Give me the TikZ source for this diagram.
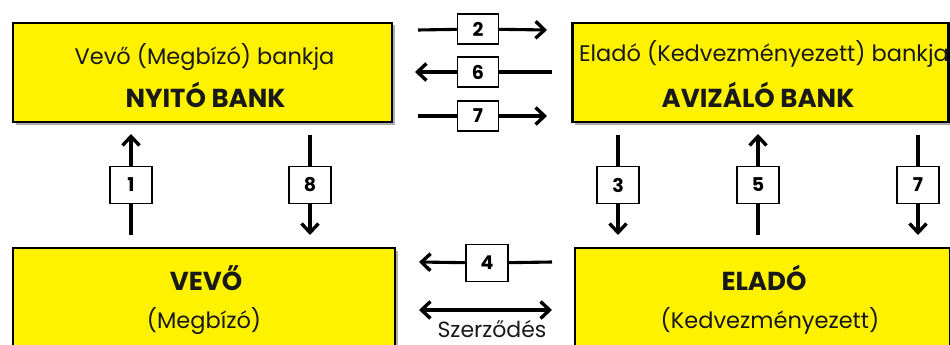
\documentclass[tikz,border=0pt]{standalone}
\usepackage{fontspec}
\setmainfont{Poppins}
\usetikzlibrary{arrows.meta,shadows}
\begin{document}
\begin{tikzpicture}[x=1pt,y=-1pt,
  bigbox/.style={draw=black, line width=2.8pt, fill=yellow, inner sep=0pt,
    drop shadow={shadow xshift=2.5pt, shadow yshift=-2.5pt, fill=black!45, opacity=0.7}},
  numbox/.style={draw=black, line width=1.3pt, fill=white, inner sep=0pt,
    font=\bfseries\fontsize{19}{19}\selectfont},
  vnum/.style={numbox, minimum width=42pt, minimum height=37pt},
  hnum/.style={numbox, minimum width=41pt, minimum height=30pt},
  conn/.style={line width=3.1pt},
  arr/.style={conn, -{Straight Barb[length=9pt,width=17pt,line width=3.4pt]}},
  darr/.style={conn, {Straight Barb[length=9pt,width=17pt,line width=3.4pt]}-{Straight Barb[length=9pt,width=17pt,line width=3.4pt]}},
  reg/.style={anchor=base, text=black!90, font=\fontsize{22.5}{22.5}\selectfont},
  hd/.style={anchor=base, text=black!90, font=\bfseries\fontsize{26}{26}\selectfont}
]
\useasboundingbox (0,0) rectangle (950,345);
\clip (0,0) rectangle (950,345);
\fill[white] (0,0) rectangle (950,345);

% big boxes
\node[bigbox, minimum width=379pt, minimum height=99pt] (nyito) at (202.5,72.5) {};
\node[bigbox, minimum width=376pt, minimum height=99pt] (aviz) at (760.5,72.5) {};
\node[bigbox, minimum width=382pt, minimum height=172pt] (vevo) at (204,334) {};
\node[bigbox, minimum width=375pt, minimum height=172pt] (elado) at (762.5,334) {};

% texts
\node[reg] (t1) at (204.5,64) {Vevő (Megbízó) bankja};
\node[hd] (t2) at (205.5,107) {NYITÓ BANK};
\node[reg] (t3) at (764,62) {Eladó (Kedvezményezett) bankja};
\node[hd] (t4) at (758,107) {AVIZÁLÓ BANK};
\node[hd] (t5) at (206,290) {VEVŐ};
\node[reg] (t6) at (204,328) {(Megbízó)};
\node[hd] (t7) at (764,290) {ELADÓ};
\node[reg] (t8) at (770,328) {(Kedvezményezett)};

% vertical arrows
\coordinate (a1s) at (131,235); \coordinate (a1e) at (131,134);
\node[vnum] (n1) at (131,185) {1};
\draw[conn] (a1s) -- (n1); \draw[arr] (n1) -- (a1e);

\coordinate (a8s) at (310,135); \coordinate (a8e) at (310,235);
\node[vnum] (n8) at (310,185) {8};
\draw[conn] (a8s) -- (n8); \draw[arr] (n8) -- (a8e);

\coordinate (a3s) at (618,135); \coordinate (a3e) at (618,235);
\node[vnum] (n3) at (618,185) {3};
\draw[conn] (a3s) -- (n3); \draw[arr] (n3) -- (a3e);

\coordinate (a5s) at (758,235); \coordinate (a5e) at (758,134);
\node[vnum] (n5) at (758,185) {5};
\draw[conn] (a5s) -- (n5); \draw[arr] (n5) -- (a5e);

\coordinate (a7vs) at (918,135); \coordinate (a7ve) at (918,235);
\node[vnum] (n7v) at (918,185) {7};
\draw[conn] (a7vs) -- (n7v); \draw[arr] (n7v) -- (a7ve);

% horizontal arrows
\coordinate (a2s) at (418,30); \coordinate (a2e) at (547,30);
\node[hnum] (n2) at (478,29) {2};
\draw[conn] (a2s) -- (n2); \draw[arr] (n2) -- (a2e);

\coordinate (a6s) at (552,72); \coordinate (a6e) at (415,72);
\node[hnum] (n6) at (478,72) {6};
\draw[conn] (a6s) -- (n6); \draw[arr] (n6) -- (a6e);

\coordinate (a7hs) at (418,116); \coordinate (a7he) at (547,116);
\node[hnum] (n7h) at (478,116) {7};
\draw[conn] (a7hs) -- (n7h); \draw[arr] (n7h) -- (a7he);

\coordinate (a4s) at (552,262); \coordinate (a4e) at (419,262);
\node[vnum] (n4) at (487,263) {4};
\draw[conn] (a4s) -- (n4); \draw[arr] (n4) -- (a4e);

\coordinate (szl) at (419,310); \coordinate (szr) at (552,310);
\draw[darr] (szl) -- (szr);
\node[reg, font=\fontsize{22}{22}\selectfont] (sz) at (492,337) {Szerződés};
\end{tikzpicture}
\end{document}
